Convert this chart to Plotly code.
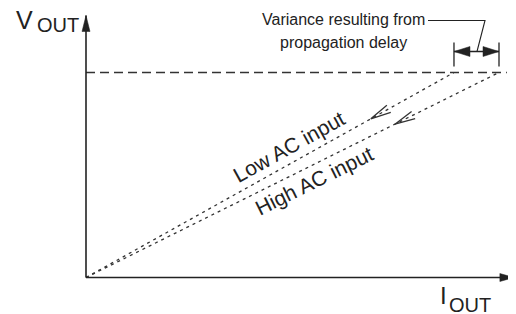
import numpy as np
import plotly.graph_objects as go

# ---------------- data (arbitrary units) ----------------
series_names = ["Low AC input", "High AC input"]
iout_low = [0.0, 0.891]      # I_OUT at which low-AC line reaches V level
vout_low = [0.0, 1.0]
iout_high = [0.0, 1.0]
vout_high = [0.0, 1.0]
v_level = 1.0                # regulated V_OUT level (dashed line)
level_line_end = 1.019       # extent of dashed line along I_OUT
arrow_frac = [0.774, 0.748]  # position of direction arrows along each line
label_frac = [0.552, 0.554]  # label positions along each line
axis_x_end = 1.036
axis_y_end = 1.278
axis_labels = ["V", "OUT", "I", "OUT"]
note_lines = ["Variance resulting from", "propagation delay"]

# ---------------- layout geometry ----------------
OFF = 8                      # page body margin of the browser
W, H = 516 - OFF, 314 - OFF
X0PX, Y0PX = 86 - OFF, 277.5 - OFF
SX, SY = 413.0, 205.0
xr = [-X0PX / SX, (W - X0PX) / SX]
yr = [-(H - Y0PX) / SY, Y0PX / SY]

def px2x(p):
    return (p - OFF - X0PX) / SX

def px2y(p):
    return (Y0PX - (p - OFF)) / SY

INK = "#222222"
FONT = "Arial, Liberation Sans, sans-serif"

fig = go.Figure()

# dashed V level
fig.add_trace(go.Scatter(x=[0, level_line_end], y=[v_level, v_level], mode="lines",
                         line=dict(color="#333333", width=1.3, dash="9px,5px"),
                         hoverinfo="skip", showlegend=False))

# dotted lines
for xs, ys in [(iout_low, vout_low), (iout_high, vout_high)]:
    fig.add_trace(go.Scatter(x=xs, y=ys, mode="lines",
                             line=dict(color="#333333", width=1.3, dash="3px,4px"),
                             hoverinfo="skip", showlegend=False))

shapes = []
# axes
shapes.append(dict(type="line", x0=0, y0=0, x1=0, y1=axis_y_end, xref="x", yref="y",
                   line=dict(color=INK, width=1.6)))
shapes.append(dict(type="line", x0=0, y0=0, x1=axis_x_end, y1=0, xref="x", yref="y",
                   line=dict(color=INK, width=1.6)))
shapes.append(dict(type="path", xref="x", yref="y", xsizemode="pixel", ysizemode="pixel",
                   xanchor=0, yanchor=axis_y_end, path="M0,0 L-4,-16 L4,-16 Z",
                   fillcolor=INK, line=dict(color=INK, width=0.5)))
shapes.append(dict(type="path", xref="x", yref="y", xsizemode="pixel", ysizemode="pixel",
                   xanchor=axis_x_end, yanchor=0, path="M0,0 L-14,4 L-14,-4 Z",
                   fillcolor=INK, line=dict(color=INK, width=0.5)))

# direction arrowheads on dotted lines
L, a = 21, np.radians(11)
for (xs, ys), f in zip([(iout_low, vout_low), (iout_high, vout_high)], arrow_frac):
    th = np.arctan2(SY * ys[-1], SX * xs[-1])
    b1 = (L * np.cos(th + a), L * np.sin(th + a))
    b2 = (L * np.cos(th - a), L * np.sin(th - a))
    path = f"M{b1[0]:.2f},{b1[1]:.2f} L0,0 L{b2[0]:.2f},{b2[1]:.2f}"
    shapes.append(dict(type="path", xref="x", yref="y", xsizemode="pixel", ysizemode="pixel",
                       xanchor=xs[-1] * f, yanchor=ys[-1] * f, path=path,
                       line=dict(color="#333333", width=1.3)))

# variance markers
xl, xh = iout_low[-1], iout_high[-1]
for xv in (xl, xh):
    shapes.append(dict(type="line", xref="x", yref="y", ysizemode="pixel", yanchor=v_level,
                       x0=xv, x1=xv, y0=6, y1=30, line=dict(color=INK, width=1.3)))
shapes.append(dict(type="line", xref="x", yref="y", ysizemode="pixel", yanchor=v_level,
                   x0=xl, x1=xh, y0=21, y1=21, line=dict(color=INK, width=1.4)))
shapes.append(dict(type="path", xref="x", yref="y", xsizemode="pixel", ysizemode="pixel",
                   xanchor=xl, yanchor=v_level, path="M0,21 L16,26 L16,16 Z",
                   fillcolor=INK, line=dict(color=INK, width=0.5)))
shapes.append(dict(type="path", xref="x", yref="y", xsizemode="pixel", ysizemode="pixel",
                   xanchor=xh, yanchor=v_level, path="M0,21 L-16,26 L-16,16 Z",
                   fillcolor=INK, line=dict(color=INK, width=0.5)))
# leader line
shapes.append(dict(type="path", xref="x", yref="y", xsizemode="pixel", ysizemode="pixel",
                   xanchor=xh, yanchor=v_level, path="M-22,21 L-14,52 L-71,52",
                   line=dict(color=INK, width=1.1)))

ann = []
def txt(x, y, t, size, xanchor="left", angle=0, yshift=0):
    ann.append(dict(x=x, y=y, xref="x", yref="y", text=t, showarrow=False,
                    xanchor=xanchor, yanchor="middle", textangle=angle, yshift=yshift,
                    font=dict(family=FONT, size=size, color=INK)))

# axis labels
txt(px2x(14), px2y(19.5), axis_labels[0], 25)
txt(px2x(35), px2y(24.5), axis_labels[1], 20)
txt(px2x(437.5), px2y(295.5), axis_labels[2], 24)
txt(px2x(447), px2y(304.5), axis_labels[3], 20)

# note text
txt(px2x(343), px2y(19), note_lines[0], 16, xanchor="center")
txt(px2x(343), px2y(42), note_lines[1], 16, xanchor="center")

# series labels
for (xs, ys), f, name, ys_shift in zip([(iout_low, vout_low), (iout_high, vout_high)],
                                       label_frac, series_names, [18, -17]):
    ang = -np.degrees(np.arctan2(SY * ys[-1], SX * xs[-1]))
    txt(xs[-1] * f, ys[-1] * f, name, 21, xanchor="center", angle=ang, yshift=ys_shift)

fig.update_layout(
    width=W, height=H, margin=dict(l=0, r=0, t=0, b=0),
    paper_bgcolor="white", plot_bgcolor="white",
    xaxis=dict(range=xr, visible=False, fixedrange=True),
    yaxis=dict(range=yr, visible=False, fixedrange=True),
    shapes=shapes, annotations=ann, showlegend=False,
)

fig.write_html("out.html")
